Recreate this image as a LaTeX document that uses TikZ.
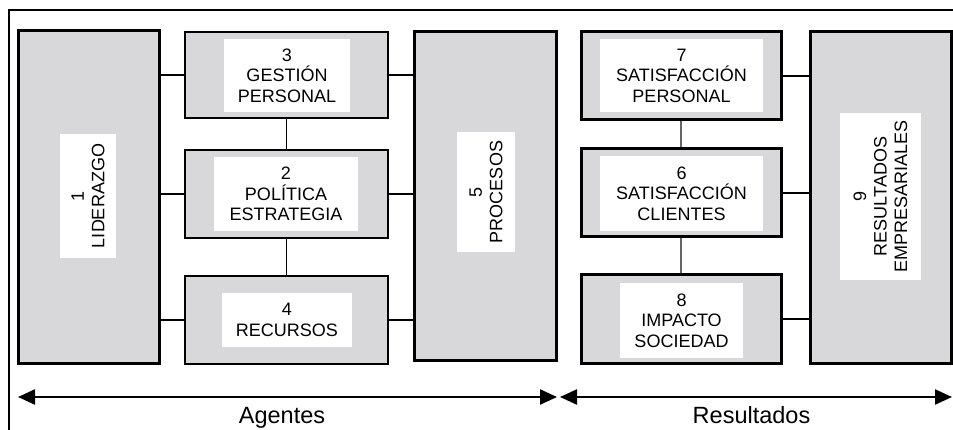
\documentclass[tikz,border=0pt]{standalone}
\usepackage{fontspec}
\setmainfont{Liberation Sans}
\usetikzlibrary{arrows.meta}
\definecolor{boxgray}{RGB}{216,216,218}
\begin{document}
\begin{tikzpicture}[x=1pt,y=-1pt,
  thickbox/.style={draw, fill=boxgray, inner sep=0pt, line width=3pt},
  thinbox/.style={draw, fill=boxgray, inner sep=0pt, line width=1.6pt},
  lab/.style={fill=white, inner sep=0pt, align=center, font=\fontsize{18}{20.5}\selectfont},
  link/.style={line width=1.3pt},
  glink/.style={line width=1.3pt, black!60},
  dblarrow/.style={line width=2.3pt, {Triangle[length=17pt,width=15pt]}-{Triangle[length=17pt,width=15pt]}},
  bigtext/.style={font=\fontsize{23.5}{26}\selectfont, anchor=base, inner sep=0pt}
]
\useasboundingbox (0,0) rectangle (953,430);
% frame
\draw[line width=1.6pt] (9,430) -- (9,10) -- (953,10);

% outer boxes
\node[thickbox, minimum width=141, minimum height=332] (B1) at (88.5,197) {};
\node[thinbox, minimum width=203, minimum height=86] (B3) at (286.5,75) {};
\node[thinbox, minimum width=203, minimum height=88] (B2) at (286.5,194) {};
\node[thinbox, minimum width=203, minimum height=88] (B4) at (286.5,320) {};
\node[thickbox, minimum width=142, minimum height=328] (B5) at (485,196) {};
\node[thickbox, minimum width=200, minimum height=88] (B7) at (681,76) {};
\node[thickbox, minimum width=200, minimum height=88] (B6) at (681,193) {};
\node[thickbox, minimum width=200, minimum height=88] (B8) at (681,319) {};
\node[thickbox, minimum width=141, minimum height=331] (B9) at (880.5,197.5) {};

% labels
\node[lab, rotate=90, minimum width=124, minimum height=56] (L1) at (88,196) {1\\LIDERAZGO};
\node[lab, minimum width=126, minimum height=73] (L3) at (287,75.5) {3\\GESTIÓN\\PERSONAL};
\node[lab, minimum width=144, minimum height=74] (L2) at (286,194) {2\\POLÍTICA\\ESTRATEGIA};
\node[lab, minimum width=130, minimum height=54] (L4) at (287,320) {4\\RECURSOS};
\node[lab, rotate=90, minimum width=120, minimum height=58] (L5) at (486,192) {5\\PROCESOS};
\node[lab, minimum width=163, minimum height=73] (L7) at (681.5,75.5) {7\\SATISFACCIÓN\\PERSONAL};
\node[lab, minimum width=163, minimum height=75] (L6) at (681.5,193.5) {6\\SATISFACCIÓN\\CLIENTES};
\node[lab, minimum width=123, minimum height=75] (L8) at (681.5,320.5) {8\\IMPACTO\\SOCIEDAD};
\node[lab, rotate=90, minimum width=167, minimum height=81] (L9) at (880.5,196.5) {9\\RESULTADOS\\EMPRESARIALES};

% connectors
\draw[link] (B1.east |- B3.west) -- (B3.west);
\draw[link] (B1.east |- B2.west) -- (B2.west);
\draw[link] (B1.east |- B4.west) -- (B4.west);
\draw[link] (B3.east) -- (B3.east -| B5.west);
\draw[link] (B2.east) -- (B2.east -| B5.west);
\draw[link] (B4.east) -- (B4.east -| B5.west);
\draw[link] (B3.south) -- (B2.north);
\draw[link] (B2.south) -- (B4.north);
\draw[link] (B7.east) -- (B7.east -| B9.west);
\draw[link] (B6.east) -- (B6.east -| B9.west);
\draw[link] (B8.east) -- (B8.east -| B9.west);
\draw[glink] (B7.south) -- (B6.north);
\draw[glink] (B6.south) -- (B8.north);

% arrows
\coordinate (aL) at (18,397);
\coordinate (aR) at (557,397);
\coordinate (rL) at (560,397);
\coordinate (rR) at (952,397);
\draw[dblarrow] (aL) -- (aR);
\draw[dblarrow] (rL) -- (rR);
\node[bigtext] (ag) at (282,423) {Agentes};
\node[bigtext] (res) at (751.5,423) {Resultados};
\end{tikzpicture}
\end{document}
